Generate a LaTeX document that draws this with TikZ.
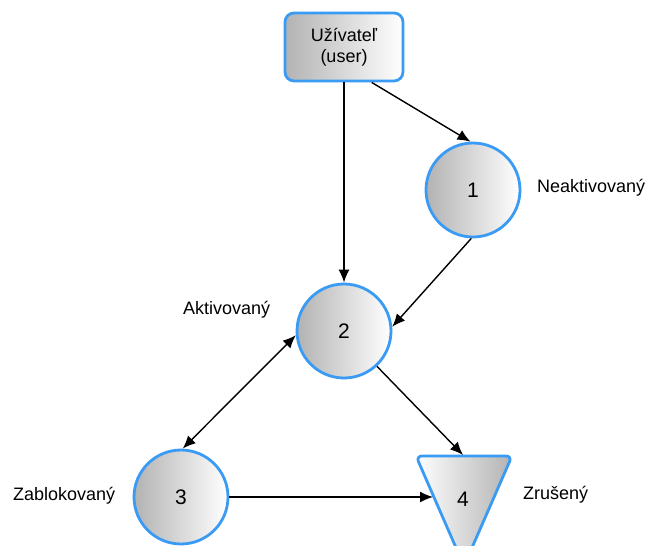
\documentclass[tikz,border=0pt]{standalone}
\usepackage{fontspec}
\setmainfont{Liberation Sans}
\usetikzlibrary{arrows.meta,shapes.geometric}
\definecolor{edgeblue}{RGB}{58,155,245}
\tikzset{
  x=1pt,y=-1pt,
  state/.style={circle,draw=edgeblue,line width=2.8pt,minimum size=94pt,inner sep=0pt,
     left color=black!30,right color=white,font=\fontsize{21}{24}\selectfont},
  userbox/.style={rectangle,rounded corners=9pt,draw=edgeblue,line width=2.8pt,
     minimum width=118pt,minimum height=68pt,align=center,
     left color=black!30,right color=white,font=\fontsize{18}{21}\selectfont},
  lbl/.style={font=\fontsize{18}{20}\selectfont,inner sep=0pt},
  arr/.style={line width=1.4pt,-{Latex[length=13pt,width=11pt]}},
  darr/.style={line width=1.4pt,{Latex[length=13pt,width=11pt]}-{Latex[length=13pt,width=11pt]}}
}
\begin{document}
\begin{tikzpicture}
\clip (0,0) rectangle (648,546);
\fill[white] (0,0) rectangle (648,546);
\node[userbox] (user) at (344,47) {Užívateľ\\(user)};
\node[state] (c1) at (473,190) {1};
\node[state] (c2) at (344,331) {2};
\node[state] (c3) at (181,497) {3};
% triangle 4
\path[draw=edgeblue,line width=2.8pt,rounded corners=6pt,left color=white,right color=black!30]
  (416,456) -- (512,456) -- (464,566) -- cycle;
\node[font=\fontsize{21}{24}\selectfont] (n4) at (463,499) {4};
\coordinate (t4top) at (463,455);
\coordinate (t4left) at (433,497);
% labels
\node[lbl,anchor=west] (l1) at (537,188) {Neaktivovaný};
\node[lbl,anchor=west] (l2) at (183,310) {Aktivovaný};
\node[lbl,anchor=west] (l3) at (13,496) {Zablokovaný};
\node[lbl,anchor=west] (l4) at (523,495) {Zrušený};
% connectors
\draw[arr] (user.south) -- (c2.north);
\draw[arr] (user.-52) -- (c1.93);
\draw[arr] (c1.-92) -- (c2.5);
\draw[darr] (c2.185) -- (c3.88);
\draw[arr] (c2.-47) -- (t4top);
\draw[arr] (c3.east) -- (t4left);
\end{tikzpicture}
\end{document}
